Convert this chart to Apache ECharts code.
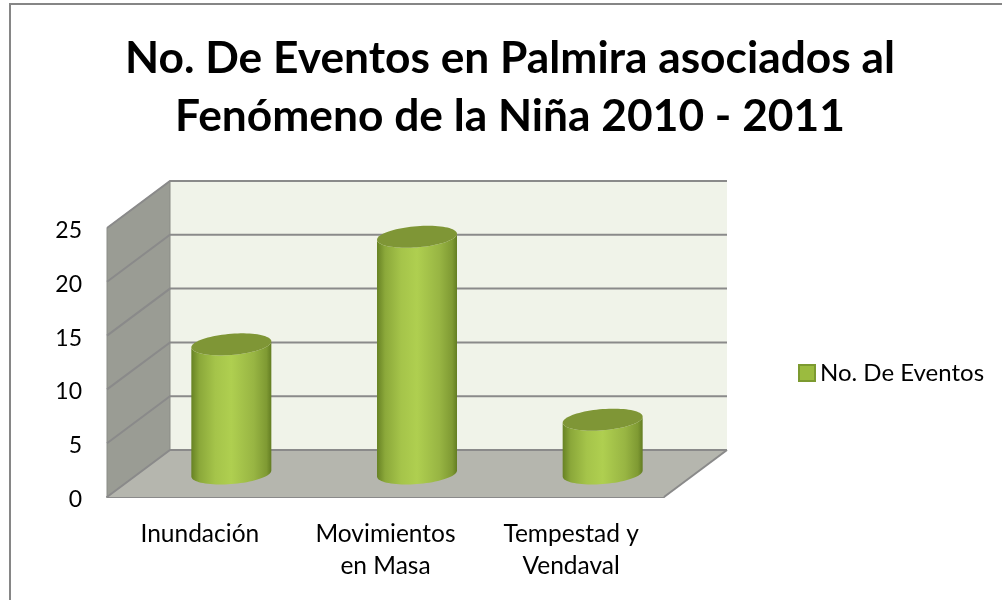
<!DOCTYPE html>
<html><head><meta charset="utf-8">
<style>html,body{margin:0;padding:0;background:#fff}#c{width:1002px;height:600px}</style>
<script src="https://cdn.jsdelivr.net/npm/echarts@6/dist/echarts.min.js"></script>
</head><body><div id="c"></div>
<script>
var categories = ['Inundación', 'Movimientos\nen Masa', 'Tempestad y\nVendaval'];
var seriesName = 'No. De Eventos';
var eventCounts = [12, 22, 5];
var yTicks = [0, 5, 10, 15, 20, 25];
var titleText = 'No. De Eventos en Palmira asociados al\nFenómeno de la Niña 2010 - 2011';

var DX = 63, DY = -47, RX = 40, RY = 10.6, TILT = 3;
function ell(cx, cy, a0, a1, n) {
  var p = [];
  for (var i = 0; i <= n; i++) {
    var t = a0 + (a1 - a0) * i / n;
    p.push([cx + RX * Math.cos(t), cy + RY * Math.sin(t) - TILT * Math.cos(t)]);
  }
  return p;
}
var chart = echarts.init(document.getElementById('c'), null, {renderer: 'canvas'});
var LG = echarts.graphic.LinearGradient;
chart.setOption({
  animation: false,
  backgroundColor: '#fff',
  textStyle: {fontFamily: 'Lato'},
  title: {text: titleText, left: 505, top: 25, textAlign: 'center',
    textStyle: {fontFamily: 'Lato', fontWeight: 'bold', fontSize: 44.3, lineHeight: 58, color: '#000'}},
  legend: {data: [seriesName], left: 798, top: 361, padding: 0, icon: 'rect', itemWidth: 16, itemHeight: 16, itemGap: 0,
    textStyle: {fontFamily: 'Lato', fontSize: 24, color: '#000'}},
  grid: {left: 107, top: 228, width: 557, height: 269},
  xAxis: {type: 'category', data: categories,
    axisLine: {show: true, lineStyle: {color: '#8a8a8a', width: 2}}, axisTick: {show: false}, splitLine: {show: false},
    axisLabel: {margin: 21, fontSize: 24.5, lineHeight: 32, color: '#000', fontFamily: 'Lato'}},
  yAxis: {type: 'value', min: 0, max: 25, interval: 5,
    axisLine: {show: false}, axisTick: {show: false}, splitLine: {show: false},
    axisLabel: {margin: 25, fontSize: 23, color: '#000', fontFamily: 'Lato', verticalAlign: 'top', lineHeight: 5}},
  graphic: [{type: 'polyline', silent: true, z: -1, shape: {points: [[10, 600], [10, 4], [1002, 4]]},
    style: {stroke: '#868686', lineWidth: 2, fill: null}}],
  series: [
    {type: 'custom', name: 'walls', z: 1, silent: true, coordinateSystem: 'cartesian2d',
      data: [[0, 0]], clip: false,
      renderItem: function (params, api) {
        var g = params.coordSys, x0 = g.x, x1 = g.x + g.width, top = g.y, bot = g.y + g.height;
        return {type: 'group', children: [
          {type: 'polygon', shape: {points: [[x0 + DX, top + DY], [x1 + DX, top + DY], [x1 + DX, bot + DY], [x0 + DX, bot + DY]]}, style: {fill: '#F0F3E9'}},
          {type: 'polygon', shape: {points: [[x0, top], [x0 + DX, top + DY], [x0 + DX, bot + DY], [x0, bot]]}, style: {fill: '#9A9C94', stroke: '#8a8c86', lineWidth: 1}},
          {type: 'polygon', shape: {points: [[x0, bot], [x0 + DX, bot + DY], [x1 + DX, bot + DY], [x1, bot]]}, style: {fill: '#B5B6AE'}},
          {type: 'line', shape: {x1: x1, y1: bot, x2: x1 + DX, y2: bot + DY}, style: {stroke: '#8a8a8a', lineWidth: 2}}
        ]};
      }},
    {type: 'custom', name: 'grid', z: 2, silent: true, clip: false,
      data: yTicks.map(function (t) { return [0, t]; }),
      encode: {y: 1},
      renderItem: function (params, api) {
        var g = params.coordSys, y = api.coord([0, api.value(1)])[1];
        return {type: 'polyline', shape: {points: [[g.x, y], [g.x + DX, y + DY], [g.x + g.width + DX, y + DY]]},
          style: {stroke: '#8a8a8a', lineWidth: 2, fill: null}};
      }},
    {type: 'custom', name: seriesName, z: 3, clip: false,
      itemStyle: {color: '#9BBB3F', borderColor: '#7C9A30', borderWidth: 1.5},
      data: eventCounts.map(function (v, i) { return [i, v]; }),
      encode: {x: 0, y: 1},
      renderItem: function (params, api) {
        var top = api.coord([api.value(0), api.value(1)]), base = api.coord([api.value(0), 0]);
        var cx = top[0] + DX / 2, ty = top[1] + DY / 2, by = base[1] + DY / 2;
        var fill = new LG(0, 0, 1, 0, [
          {offset: 0, color: '#678224'}, {offset: 0.1, color: '#8ba83a'}, {offset: 0.3, color: '#a5c44a'}, {offset: 0.5, color: '#AFCF50'},
          {offset: 0.78, color: '#98b543'}, {offset: 0.94, color: '#7f9a33'}, {offset: 1, color: '#637d22'}]);
        var body = ell(cx, by, 0, Math.PI, 40).concat(ell(cx, ty, Math.PI, 0, 40));
        return {type: 'group', children: [
          {type: 'polygon', shape: {points: body}, style: {fill: fill}},
          {type: 'polygon', shape: {points: ell(cx, ty, 0, Math.PI * 2, 80)}, style: {fill: '#7F9636'}}
        ]};
      }}
  ]
});
</script></body></html>
